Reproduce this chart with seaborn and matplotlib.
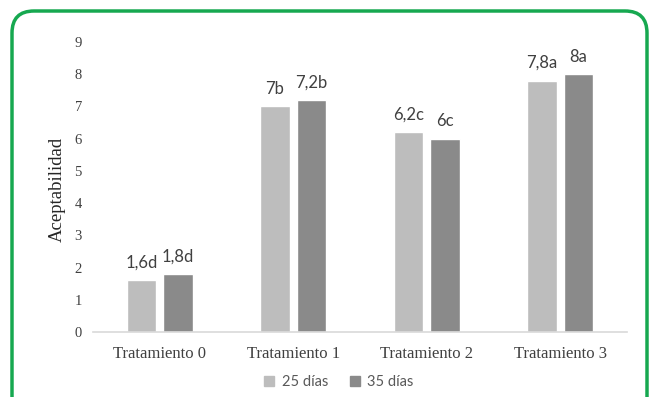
import matplotlib
matplotlib.use("Agg")
import matplotlib.pyplot as plt
import seaborn as sns
import pandas as pd
from matplotlib.patches import FancyBboxPatch
from matplotlib.transforms import IdentityTransform

categories = ["Tratamiento 0", "Tratamiento 1", "Tratamiento 2", "Tratamiento 3"]
series_names = ["25 días", "35 días"]
values_25 = [1.6, 7.0, 6.2, 7.8]
values_35 = [1.8, 7.2, 6.0, 8.0]
labels_25 = ["1,6d", "7b", "6,2c", "7,8a"]
labels_35 = ["1,8d", "7,2b", "6c", "8a"]
yticks = [0, 1, 2, 3, 4, 5, 6, 7, 8, 9]

df = pd.DataFrame({
    "Tratamiento": categories * 2,
    "Serie": [series_names[0]] * 4 + [series_names[1]] * 4,
    "Valor": values_25 + values_35,
})

sns.set_theme(style="white")
plt.rcParams["font.family"] = ["Liberation Serif", "DejaVu Serif"]

W, H = 652, 397
fig = plt.figure(figsize=(W / 100, H / 100), dpi=100)
ax = fig.add_axes([93 / W, 1 - 332 / H, (627 - 93) / W, (332 - 42) / H])

palette = {series_names[0]: "#bdbdbd", series_names[1]: "#8a8a8a"}
sns.barplot(data=df, x="Tratamiento", y="Valor", hue="Serie", order=categories,
            hue_order=series_names, palette=palette, width=0.55, gap=0.2,
            saturation=1, ax=ax, legend=False, errorbar=None)

for cont, labs in zip(ax.containers, [labels_25, labels_35]):
    ax.bar_label(cont, labels=labs, padding=7, fontsize=12, color="#404040",
                 family=["Lato", "DejaVu Sans"])

ax.set_ylim(0, 9)
ax.set_yticks(yticks)
ax.set_yticklabels([str(t) for t in yticks], fontsize=10.5, color="#404040")
ax.tick_params(axis="y", length=0, pad=8)
ax.tick_params(axis="x", length=0, pad=10, labelsize=12, labelcolor="#404040")
ax.set_xlabel("")
ax.set_ylabel("Aceptabilidad", fontsize=13.5, color="#262626")
ax.yaxis.set_label_coords((66 - 93) / 534, 0.49)
for s in ["top", "right", "left"]:
    ax.spines[s].set_visible(False)
ax.spines["bottom"].set_color("#d9d9d9")
ax.spines["bottom"].set_linewidth(1.2)
ax.grid(False)

handles = [plt.Rectangle((0, 0), 1, 1, color=palette[s]) for s in series_names]
fig.legend(handles, series_names, loc="center", bbox_to_anchor=(0.52, 1 - 382 / H),
           ncol=2, frameon=False, handlelength=0.7, handleheight=0.7,
           handletextpad=0.5, columnspacing=1.5,
           prop={"family": ["Lato", "DejaVu Sans"], "size": 10.5},
           labelcolor="#595959")

border = FancyBboxPatch((12, -40), 635, H - 11 + 40,
                        boxstyle="round,pad=0,rounding_size=22",
                        transform=IdentityTransform(), fill=False,
                        edgecolor="#16a850", linewidth=2.5, clip_on=False)
fig.patches.append(border)

fig.savefig("out.png", dpi=100)
